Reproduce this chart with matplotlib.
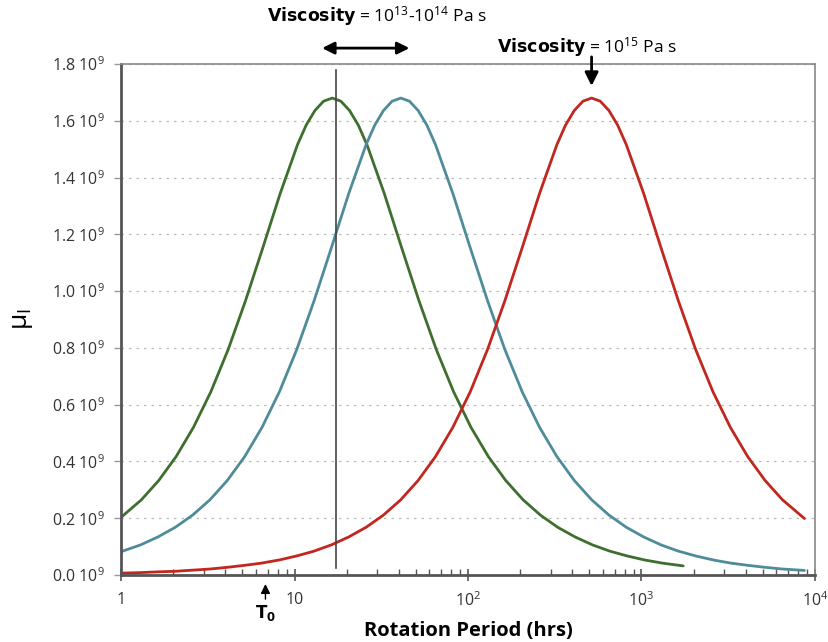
import matplotlib
matplotlib.use('Agg')
import matplotlib.pyplot as plt

plt.rcParams['font.family'] = ['Open Sans', 'DejaVu Sans']
plt.rcParams['mathtext.default'] = 'regular'

# values (x in hrs, mu in units of 1e9)
green_x = [1, 1.311, 1.65, 2.077, 2.615, 3.292, 4.145, 5.218, 6.569, 8.27, 10.41, 11.68, 13.11, 14.71,
           16.5, 18.51, 20.77, 23.31, 26.15, 32.92, 41.45, 52.18, 65.69, 82.7, 104.1, 131.1, 165,
           207.7, 261.5, 329.2, 414.5, 521.8, 656.9, 827, 1041, 1311, 1740]
green_y = [0.203, 0.265, 0.333, 0.417, 0.520, 0.645, 0.794, 0.966, 1.153, 1.344, 1.516, 1.585, 1.636, 1.669,
           1.680, 1.669, 1.636, 1.585, 1.516, 1.344, 1.153, 0.966, 0.794, 0.645, 0.520, 0.417, 0.333,
           0.265, 0.211, 0.168, 0.134, 0.106, 0.084, 0.067, 0.053, 0.042, 0.032]

blue_x = [1, 1.297, 1.632, 2.055, 2.587, 3.257, 4.1, 5.162, 6.498, 8.181, 10.3, 12.97, 16.32, 20.55,
          25.87, 29.03, 32.57, 36.54, 41, 46.0, 51.62, 57.91, 64.98, 81.81, 103, 129.7, 163.2, 205.5,
          258.7, 325.7, 410, 516.2, 649.8, 818.1, 1030, 1297, 1632, 2055, 2587, 3257, 4100, 5162,
          6498, 8700]
blue_y = [0.082, 0.106, 0.134, 0.168, 0.211, 0.265, 0.333, 0.417, 0.520, 0.645, 0.794, 0.966, 1.153, 1.344,
          1.516, 1.585, 1.636, 1.669, 1.680, 1.669, 1.636, 1.585, 1.516, 1.344, 1.153, 0.966, 0.794, 0.645,
          0.520, 0.417, 0.333, 0.265, 0.211, 0.168, 0.134, 0.106, 0.084, 0.067, 0.053, 0.042, 0.034, 0.027,
          0.021, 0.016]

red_x = [1, 1.296, 1.632, 2.054, 2.586, 3.256, 4.098, 5.16, 6.496, 8.178, 10.3, 12.96, 16.32, 20.54,
         25.86, 32.56, 40.99, 51.6, 64.96, 81.78, 103, 129.6, 163.2, 205.4, 258.6, 325.6, 365.3, 409.9,
         459.9, 516, 579, 649.6, 728.9, 817.8, 1030, 1296, 1632, 2054, 2586, 3256, 4099, 5160, 6496, 8700]
red_y = [0.0065, 0.0084, 0.011, 0.013, 0.017, 0.021, 0.027, 0.034, 0.042, 0.053, 0.067, 0.084, 0.106, 0.134,
         0.168, 0.211, 0.265, 0.333, 0.417, 0.520, 0.645, 0.794, 0.966, 1.153, 1.344, 1.516, 1.585, 1.636,
         1.669, 1.680, 1.669, 1.636, 1.585, 1.516, 1.344, 1.153, 0.966, 0.794, 0.645, 0.520, 0.417, 0.333,
         0.265, 0.199]

y_ticks = [0.0, 0.2, 0.4, 0.6, 0.8, 1.0, 1.2, 1.4, 1.6, 1.8]
x_ticks = [1, 10, 100, 1000, 10000]
x_labels = ['1', '10', '10$^2$', '10$^3$', '10$^4$']
line_x = 17.4   # vertical marker
t0_x = 6.8

fig = plt.figure(figsize=(8.29, 6.42), dpi=100)
ax = fig.add_axes([0.146, 0.1044, 0.837, 0.7959])

for xs, ys, c in [(green_x, green_y, '#3e6f2e'), (blue_x, blue_y, '#4f8c99'), (red_x, red_y, '#c2271f')]:
    ax.plot(xs, ys, color=c, lw=2, solid_joinstyle='round', solid_capstyle='round')
ax.plot([line_x, line_x], [0.025, 1.78], color='#444444', lw=1.2)

ax.set_xscale('log')
ax.set_xlim(1, 10000)
ax.set_ylim(0, 1.8)
ax.set_yticks(y_ticks)
ax.set_yticklabels(['%.1f 10$^9$' % v for v in y_ticks], fontsize=11.5, color='#333333')
ax.set_xticks(x_ticks)
ax.set_xticklabels(x_labels, fontsize=11.5, color='#333333')
ax.yaxis.grid(True, linestyle=(0, (2, 4)), color='#bbbbbb', lw=0.9)
ax.set_axisbelow(True)

ax.tick_params(axis='x', which='major', direction='inout', length=8, width=1.2, color='#555555', pad=8)
ax.tick_params(axis='x', which='minor', direction='in', length=4, width=1, color='#555555')
ax.tick_params(axis='y', direction='out', length=5, width=1, color='#999999', pad=7)

for s in ['left', 'bottom']:
    ax.spines[s].set_color('#555555')
    ax.spines[s].set_linewidth(2)
for s in ['top', 'right']:
    ax.spines[s].set_color('#888888')
    ax.spines[s].set_linewidth(1.2)

ax.set_xlabel('Rotation Period (hrs)', fontsize=14.5, fontweight='bold', labelpad=8)
ax.set_ylabel(r'$\mu_I$', fontsize=19, labelpad=12)

# annotations above the plot
ax.annotate('', xy=(13.9, 1.856), xytext=(47.7, 1.856), xycoords='data',
            arrowprops=dict(arrowstyle='<|-|>', color='black', lw=2, mutation_scale=18),
            annotation_clip=False)
ax.text(30, 1.969, r'$\mathbf{Viscosity}$ = 10$^{13}$-10$^{14}$ Pa s', fontsize=12.5,
        ha='center', va='center')
ax.text(483, 1.86, r'$\mathbf{Viscosity}$ = 10$^{15}$ Pa s', fontsize=12.5,
        ha='center', va='center')
ax.annotate('', xy=(516, 1.713), xytext=(516, 1.835), xycoords='data',
            arrowprops=dict(arrowstyle='-|>', color='black', lw=2, mutation_scale=20),
            annotation_clip=False)
ax.annotate('', xy=(t0_x, -0.022), xytext=(t0_x, -0.095), xycoords='data',
            arrowprops=dict(arrowstyle='-|>', color='black', lw=1, mutation_scale=14),
            annotation_clip=False)
ax.text(t0_x, -0.135, r'$\mathbf{T_0}$', fontsize=12, ha='center', va='center')

fig.savefig('out.png', dpi=100)
